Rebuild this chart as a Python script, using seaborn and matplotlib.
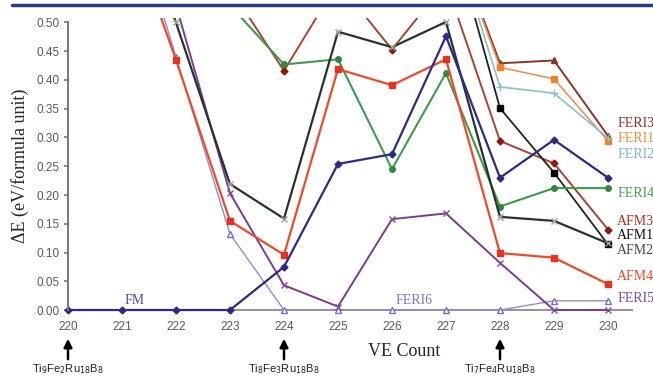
import numpy as np
import pandas as pd
import seaborn as sns
import matplotlib
matplotlib.use("Agg")
import matplotlib.pyplot as plt
from matplotlib.lines import Line2D

# values (points above 0.50 run off the top of the plot)
ve_full = [220, 221, 222, 223, 224, 225, 226, 227, 228, 229, 230]
ve_221 = ve_full[1:]
ve_223 = ve_full[3:]
ve_227 = ve_full[7:]

fm = [0, 0, 0, 0, 0.075, 0.254, 0.271, 0.476, 0.23, 0.296, 0.23]
feri5 = [0.75, 0.44, 0.132, 0, 0, 0, 0, 0, 0.016, 0.016]
feri6 = [0.85, 0.53, 0.203, 0.043, 0.006, 0.158, 0.168, 0.082, 0.0, 0.0]
afm4 = [0.70, 0.435, 0.155, 0.096, 0.419, 0.391, 0.436, 0.099, 0.091, 0.045]
afm2 = [0.75, 0.50, 0.219, 0.159, 0.484, 0.457, 0.501, 0.162, 0.155, 0.116]
feri4 = [0.53, 0.427, 0.436, 0.245, 0.412, 0.18, 0.212, 0.212]
afm3 = [0.56, 0.416, 0.57, 0.453, 0.57, 0.294, 0.255, 0.14]
feri3 = [0.68, 0.429, 0.434, 0.303]
feri1 = [0.68, 0.422, 0.402, 0.294]
feri2 = [0.69, 0.388, 0.377, 0.299]
afm1 = [0.69, 0.351, 0.239, 0.114]

tick_labels = ["220", "221", "222", "223", "224", "225", "226", "227", "228", "229", "230"]

# name, x, y, line colour, marker, marker face, marker edge, marker size, line width
series = [
    ("FERI5", ve_221, feri5, "#8c8cd8", "^", "white", "#7070c8", 4.5, 1.0),
    ("FERI6", ve_221, feri6, "#7a3c92", "x", "#7a3c92", "#8a4aa2", 4, 1.4),
    ("FERI3", ve_227, feri3, "#8a3626", "^", "#8a3626", "#8a3626", 5, 1.4),
    ("FERI1", ve_227, feri1, "#f09050", "s", "#f08030", "#f08030", 4.5, 1.2),
    ("FERI2", ve_227, feri2, "#88c0cc", "+", "#88c0cc", "#88c0cc", 6, 1.2),
    ("AFM3", ve_223, afm3, "#a8442c", "D", "#8a1a10", "#8a1a10", 3.5, 1.4),
    ("AFM1", ve_227, afm1, "#222222", "s", "black", "black", 4.5, 1.3),
    ("FERI4", ve_223, feri4, "#3e9a4e", "o", "#2e8a3e", "#2e8a3e", 4, 1.5),
    ("AFM4", ve_221, afm4, "#ee4a2a", "s", "#e83020", "#e83020", 4.5, 1.6),
    ("AFM2", ve_221, afm2, "#24342a", "x", "#9aa09a", "#9aa09a", 5, 1.6),
    ("FM", ve_full, fm, "#2c2a86", "D", "#2c2a86", "#2c2a86", 3.5, 1.6),
]

labels = [
    ("FERI3", 0.325, "#8a3626"), ("FERI1", 0.299, "#f08a40"),
    ("FERI2", 0.270, "#80b4c4"), ("FERI4", 0.203, "#4c9a5a"),
    ("AFM3", 0.154, "#b02e1e"), ("AFM1", 0.129, "#111111"),
    ("AFM2", 0.104, "#3c4c3c"), ("AFM4", 0.058, "#e8482a"),
    ("FERI5", 0.020, "#7a4c9a"),
]

sns.set_style("white")
plt.rcParams["font.family"] = ["Liberation Sans", "DejaVu Sans"]

fig = plt.figure(figsize=(6.53, 3.76), dpi=100)
ax = fig.add_axes([0.0793, 0.1602, 0.8898, 0.7907])

for name, xs, ys, lc, mk, mfc, mec, ms, lw in series:
    df = pd.DataFrame({"VE": xs, "dE": ys})
    sns.lineplot(data=df, x="VE", y="dE", ax=ax, color=lc, marker=mk,
                 markerfacecolor=mfc, markeredgecolor=mec, markersize=ms,
                 markeredgewidth=1.0, linewidth=lw, sort=False)

ax.set_xlim(219.7, 230.46)
ax.set_ylim(-0.01, 0.507)
ax.set_xticks(ve_full)
ax.set_xticklabels(tick_labels)
ax.set_yticks(np.arange(0, 0.501, 0.05))
ax.set_yticklabels([f"{v:.2f}" for v in np.arange(0, 0.501, 0.05)])
ax.tick_params(axis="x", length=0, pad=4, labelsize=8.5, labelcolor="#5a5a5a")
ax.tick_params(axis="y", length=3, width=1.2, color="#777777", direction="out",
               pad=3, labelsize=8.5, labelcolor="#5a5a5a", left=True)
ax.set_xlabel("")
ax.set_ylabel("")

for s in ["top", "right", "bottom"]:
    ax.spines[s].set_visible(False)
ax.spines["left"].set_position(("data", 220))
ax.spines["left"].set_bounds(0, 0.5)
ax.spines["left"].set_color("#777777")
ax.spines["left"].set_linewidth(1.4)
ax.hlines(0, 220, 230.46, color="#808080", linewidth=1.2, zorder=0)

serif = ["Liberation Serif", "DejaVu Serif"]
for name, y, c in labels:
    ax.text(230.17, y, name, color=c, fontsize=10, family=serif,
            ha="left", va="center")
ax.text(221.04, 0.017, "FM", color="#4c4ca0", fontsize=10, family=serif,
        ha="left", va="center")
ax.text(226.06, 0.017, "FERI6", color="#7878c0", fontsize=10, family=serif,
        ha="left", va="center")

fig.text(0.031, 0.558, "ΔE (eV/formula unit)", rotation=90, fontsize=13,
         family=serif, ha="center", va="center")
fig.text(0.619, 0.065, "VE Count", fontsize=13, family=serif,
         ha="center", va="center")

# compositions under the axis
comps = [(68, r"Ti$_9$Fe$_2$Ru$_{18}$B$_8$"),
         (284, r"Ti$_8$Fe$_3$Ru$_{18}$B$_8$"),
         (500, r"Ti$_7$Fe$_4$Ru$_{18}$B$_8$")]
for px, txt in comps:
    xf = px / 653
    fig.add_artist(matplotlib.patches.FancyArrowPatch(
        (xf, 1 - 362 / 376), (xf, 1 - 336 / 376), transform=fig.transFigure,
        arrowstyle="-|>", mutation_scale=12, lw=1.8, color="black"))
    fig.text(xf, 1 - 369 / 376, txt, fontsize=8, ha="center", va="center",
             color="#222222")

# header rule
fig.add_artist(Line2D([12 / 653, 1], [1 - 5 / 376, 1 - 5 / 376],
                      transform=fig.transFigure, color="#2b3a84", linewidth=2.5))

fig.savefig("out.png", dpi=100)
